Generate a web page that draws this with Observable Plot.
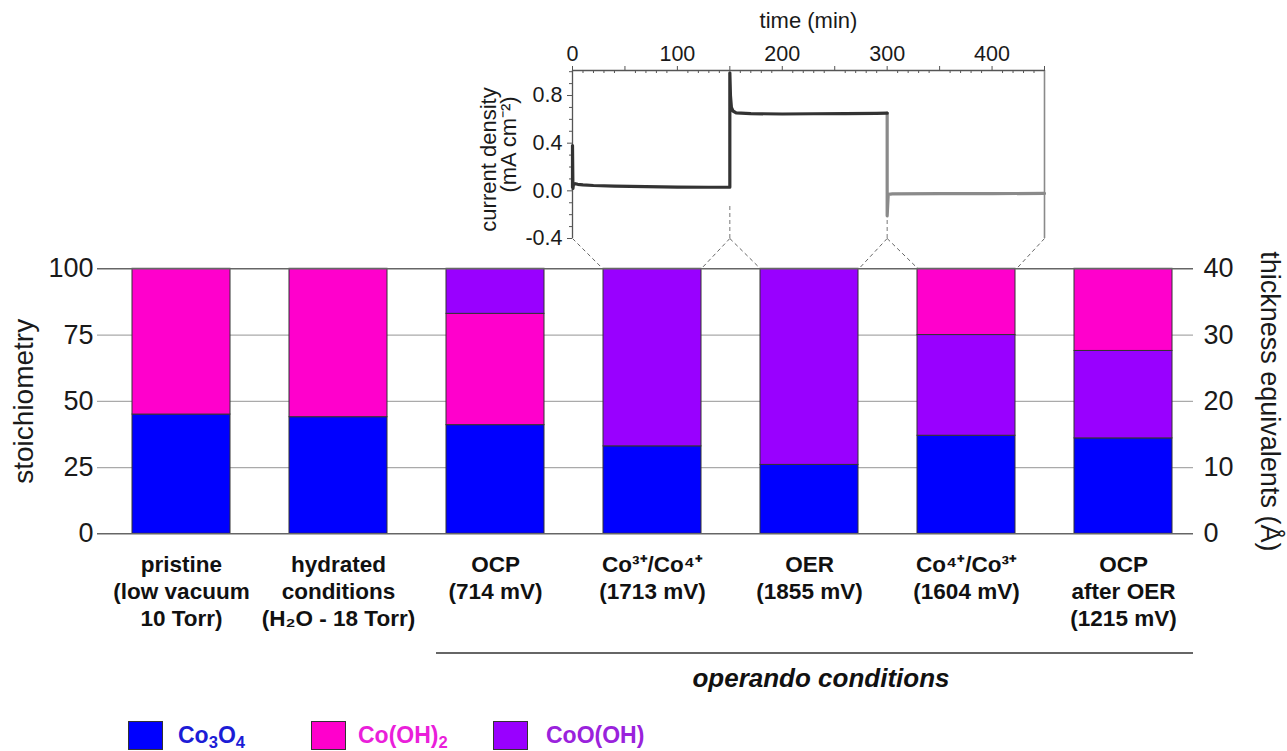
<!DOCTYPE html>
<html><head><meta charset="utf-8">
<script src="https://cdn.jsdelivr.net/npm/d3@7"></script>
<script src="https://cdn.jsdelivr.net/npm/@observablehq/plot@0.6"></script>
<style>
body{margin:0;background:#fff;font-family:"Liberation Sans",Arial,sans-serif;}
#wrap{position:relative;width:1287px;height:751px;overflow:hidden;background:#fff;}
#main,#inset{position:absolute;left:0;top:0;}
.lg{position:absolute;font-weight:bold;font-size:23px;line-height:1;white-space:nowrap;}
.lg sub{font-size:0.72em;vertical-align:-0.28em;line-height:0;}
.sw{position:absolute;width:35px;height:29px;border:1px solid #333;box-sizing:border-box;}
#oprule{position:absolute;left:436px;top:652px;width:757px;height:0;border-top:2px solid #666;}
#optext{position:absolute;left:615px;width:412px;top:663px;text-align:center;font-weight:bold;font-style:italic;font-size:26px;color:#111;}
</style></head><body>
<div id="wrap"><div id="main"></div><div id="inset"></div>
<div id="oprule"></div><div id="optext">operando conditions</div>
<div id="legend"></div></div>
<script>
// ---------------- data ----------------
const conditions = [
  "pristine\n(low vacuum\n10 Torr)",
  "hydrated\nconditions\n(H\u2082O - 18 Torr)",
  "OCP\n(714 mV)",
  "Co\u00B3\u207A/Co\u2074\u207A\n(1713 mV)",
  "OER\n(1855 mV)",
  "Co\u2074\u207A/Co\u00B3\u207A\n(1604 mV)",
  "OCP\nafter OER\n(1215 mV)"
];
const components = ["Co3O4", "Co(OH)2", "CoO(OH)"];
const componentColors = ["#0000ff", "#ff00cc", "#9900ff"];
const legendTextColors = ["#1c1cd6", "#ea1fda", "#9a22dc"];
const co3o4 = [45, 44, 41, 33, 26, 37, 36];
const coOH2 = [55, 56, 42, 0, 0, 25, 31];
const coOOH = [0, 0, 17, 67, 74, 38, 33];
// which phase sits in the middle of each stacked bar (Co3O4 is always at the bottom)
const middlePhase = ["Co(OH)2", "Co(OH)2", "Co(OH)2", "CoO(OH)", "CoO(OH)", "CoO(OH)", "CoO(OH)"];
const stoichTicks = [0, 25, 50, 75, 100];
const thicknessLabels = ["0", "10", "20", "30", "40"];

// inset chronoamperometry (time in min, current density in mA cm^-2)
const darkTime = [0, 0, 0.4, 1, 2, 5, 10, 20, 40, 70, 100, 130, 150, 150, 150.6, 151.5, 153, 156, 170, 200, 230, 260, 290, 300];
const darkJ =    [0.03, 0.38, 0.02, 0.062, 0.06, 0.055, 0.05, 0.045, 0.04, 0.035, 0.032, 0.03, 0.03, 0.99, 0.80, 0.70, 0.67, 0.655, 0.648, 0.645, 0.647, 0.648, 0.65, 0.652];
const greyTime = [300, 300, 301, 305, 350, 400, 450];
const greyJ =    [0.652, -0.21, -0.03, -0.026, -0.024, -0.023, -0.022];
const timeTicks = [0, 100, 200, 300, 400];
const jTicks = [-0.4, 0.0, 0.4, 0.8];
const segmentBounds = [0, 150, 300, 450];
const segmentBars = [3, 4, 5];      // bars measured during the three segments
const dropLines = [{t: 150, j: -0.11}, {t: 300, j: -0.23}];

// ---------------- table for the stacked bars ----------------
const valueOf = {"Co3O4": co3o4, "Co(OH)2": coOH2, "CoO(OH)": coOOH};
const rows = [];
conditions.forEach((c, i) => {
  const order = ["Co3O4", middlePhase[i], components.find(k => k !== "Co3O4" && k !== middlePhase[i])];
  let base = 0;
  for (const k of order) {
    const v = valueOf[k][i];
    if (v > 0) rows.push({condition: c, component: k, y1: base, y2: base + v});
    base += v;
  }
});

const W = 1287;
const FONT = "'Liberation Sans', Arial, sans-serif";
const M = {left: 97, right: 94, top: 268.3, bottom: 533.3, height: 700};
const bandOpts = {paddingInner: 0.376, paddingOuter: 0.165, align: 0.626};

const main = Plot.plot({
  width: W, height: M.height,
  marginLeft: M.left, marginRight: M.right, marginTop: M.top, marginBottom: M.height - M.bottom,
  x: {domain: conditions, ...bandOpts, axis: null},
  y: {domain: [0, 100]},
  color: {domain: components, range: componentColors},
  style: {background: "transparent", overflow: "visible", fontFamily: FONT, color: "#1a1a1a"},
  marks: [
    Plot.ruleY([25, 50, 75], {stroke: "#aaaaaa", strokeWidth: 1.2}),
    Plot.barY(rows, {x: "condition", y1: "y1", y2: "y2", fill: "component", stroke: "#333", strokeWidth: 1}),
    Plot.ruleY([0, 100], {stroke: "#666", strokeWidth: 1.6}),
    Plot.axisY({anchor: "left", ticks: stoichTicks, tickSize: 0, tickPadding: 4, fontSize: 27, label: null}),
    Plot.axisY({anchor: "right", ticks: stoichTicks, tickSize: 0, tickPadding: 10, fontSize: 27, label: null,
      tickFormat: d => thicknessLabels[stoichTicks.indexOf(d)]}),
    Plot.text(["stoichiometry"], {text: d => d, frameAnchor: "left", textAnchor: "middle", rotate: -90, dx: -73, fontSize: 28, fill: "#1a1a1a"}),
    Plot.text(["thickness equivalents (\u00C5)"], {text: d => d, frameAnchor: "right", textAnchor: "middle", rotate: 90, dx: 76, fontSize: 27, fill: "#1a1a1a"}),
    Plot.text(conditions, {x: d => d, text: d => d, frameAnchor: "bottom", lineAnchor: "top", dy: 19.4,
      fontSize: 22.5, fontWeight: "bold", lineHeight: 1.19, fill: "#111"})
  ]
});
document.getElementById("main").appendChild(main);

// ---------------- inset ----------------
const I = {left: 572, right: 1044, top: 70, bottom: 238, height: 272};
const jDomain = [-0.4, 1.01];
const frameW = I.right - I.left, frameH = I.bottom - I.top;

// scales used to join the inset time segments to their bars
function mk(opts, key) {
  const s = Plot.scale({[key]: opts});
  if (s && typeof s.apply === "function") return s;
  let d;
  if (opts.type === "band") {
    d = d3.scaleBand().domain(opts.domain).range(opts.range).paddingInner(opts.paddingInner).paddingOuter(opts.paddingOuter).align(opts.align);
    return {apply: v => d(v), bandwidth: d.bandwidth()};
  }
  d = d3.scaleLinear().domain(opts.domain).range(opts.range);
  return {apply: v => d(v), invert: v => d.invert(v)};
}
const barX = mk({type: "band", domain: conditions, range: [M.left, W - M.right], ...bandOpts}, "x");
const barY = mk({type: "linear", domain: [0, 100], range: [M.bottom, M.top]}, "y");
const tX = mk({type: "linear", domain: [0, 450], range: [I.left, I.right]}, "x");
const jY = mk({type: "linear", domain: jDomain, range: [I.bottom, I.top]}, "y");
const bw = barX.bandwidth;
const topJ = jY.invert(barY.apply(100));
const links = [];
segmentBars.forEach((b, k) => {
  const x0 = barX.apply(conditions[b]);
  links.push({t1: segmentBounds[k], t2: tX.invert(x0)});
  links.push({t1: segmentBounds[k + 1], t2: tX.invert(x0 + bw)});
});

const xMajor = d3.range(0, 451, 50);
const xMinor = d3.range(0, 451, 10).filter(v => v % 50 !== 0);
const yMinor = d3.range(-4, 11).map(v => v / 10).filter(v => Math.abs((v * 10) % 4) > 1e-9);

const inset = Plot.plot({
  width: W, height: I.height,
  marginLeft: I.left, marginRight: W - I.right, marginTop: I.top, marginBottom: I.height - I.bottom,
  x: {domain: [0, 450]},
  y: {domain: jDomain},
  style: {background: "transparent", overflow: "visible", fontFamily: FONT, color: "#1a1a1a"},
  marks: [
    Plot.ruleX([0], {stroke: "#555", strokeWidth: 1.3}),
    Plot.ruleX([450], {stroke: "#8a8a8a", strokeWidth: 1.6}),
    Plot.ruleY([jDomain[1]], {stroke: "#555", strokeWidth: 1.3}),
    Plot.ruleX(xMinor, {insetBottom: frameH - 3, stroke: "#555"}),
    Plot.ruleX(xMajor, {insetTop: -4, insetBottom: frameH - 1, stroke: "#555"}),
    Plot.ruleY(yMinor, {x1: 0, x2: 450, insetLeft: -3, insetRight: frameW, stroke: "#555"}),
    Plot.ruleY(jTicks, {x1: 0, x2: 450, insetLeft: -5, insetRight: frameW, stroke: "#555"}),
    Plot.ruleX(dropLines, {x: "t", y1: jDomain[0], y2: "j", stroke: "#777", strokeDasharray: "4,3"}),
    Plot.link(links, {x1: "t1", y1: jDomain[0], x2: "t2", y2: topJ, stroke: "#666", strokeDasharray: "4,3", strokeWidth: 1}),
    Plot.line(greyTime.map((t, i) => ({t, j: greyJ[i]})), {x: "t", y: "j", stroke: "#8a8a8a", strokeWidth: 3.2}),
    Plot.line(darkTime.map((t, i) => ({t, j: darkJ[i]})), {x: "t", y: "j", stroke: "#333", strokeWidth: 3.2}),
    Plot.axisX({anchor: "top", ticks: timeTicks, tickSize: 0, tickPadding: 10, fontSize: 21.5, label: null}),
    Plot.axisY({anchor: "left", ticks: jTicks, tickSize: 0, tickPadding: 10, fontSize: 21.5, label: null,
      tickFormat: d => d.toFixed(1)}),
    Plot.text(["time (min)"], {text: d => d, frameAnchor: "top", lineAnchor: "bottom", dx: 0, dy: -43, fontSize: 22}),
    Plot.text(["current density"], {text: d => d, frameAnchor: "left", textAnchor: "middle", rotate: -90, dx: -84, dy: 5, fontSize: 22}),
    Plot.text(["(mA cm\u207B\u00B2)"], {text: d => d, frameAnchor: "left", textAnchor: "middle", rotate: -90, dx: -64, dy: -10, fontSize: 22})
  ]
});
document.getElementById("inset").appendChild(inset);

// ---------------- legend ----------------
const legendItems = [
  {sx: 128, tx: 178, html: "Co<sub>3</sub>O<sub>4</sub>"},
  {sx: 311, tx: 358, html: "Co(OH)<sub>2</sub>"},
  {sx: 493, tx: 546, html: "CoO(OH)"}
];
const lg = document.getElementById("legend");
legendItems.forEach((it, i) => {
  const sw = document.createElement("div");
  sw.className = "sw";
  sw.style.left = it.sx + "px"; sw.style.top = "721px"; sw.style.background = componentColors[i];
  lg.appendChild(sw);
  const t = document.createElement("div");
  t.className = "lg";
  t.style.left = it.tx + "px"; t.style.top = "724px"; t.style.color = legendTextColors[i];
  t.innerHTML = it.html;
  lg.appendChild(t);
});
</script></body></html>
